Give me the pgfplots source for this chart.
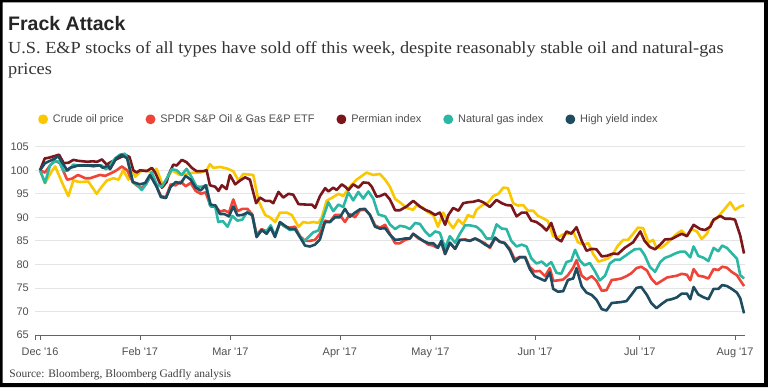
\documentclass[border=0pt]{standalone}
\usepackage{pgfplots}
\pgfplotsset{compat=1.18}
\usepackage{fontspec}
\setmainfont{Liberation Sans}
\newfontfamily\seriffont{Liberation Serif}
\newfontfamily\subfont[FakeStretch=1.08]{Liberation Serif}
\definecolor{cYellow}{RGB}{250,200,0}
\definecolor{cRed}{RGB}{240,68,56}
\definecolor{cPerm}{RGB}{122,22,28}
\definecolor{cTeal}{RGB}{42,184,164}
\definecolor{cNavy}{RGB}{30,76,96}
\definecolor{cGrid}{RGB}{228,228,228}
\definecolor{cTick}{RGB}{80,80,80}
\definecolor{cAxis}{RGB}{100,100,100}
\begin{document}
\begin{tikzpicture}[x=1bp,y=1bp]
\useasboundingbox (0,0) rectangle (768,387);
\fill[white] (0,0) rectangle (768,387);
\fill[black, even odd rule] (0,0) rectangle (768,387) (2.5,4) rectangle (764,384.5);
\node[anchor=base west, inner sep=0pt, text=black!85] at (8,356.3) {\fontsize{19.6}{22}\selectfont\bfseries Frack Attack};
\node[anchor=base west, inner sep=0pt, text=black!80] at (8,333.7) {\subfont\fontsize{17}{20}\selectfont U.S. E\&P stocks of all types have sold off this week, despite reasonably stable oil and natural-gas};
\node[anchor=base west, inner sep=0pt, text=black!80] at (8,313) {\subfont\fontsize{17}{20}\selectfont prices};
\node[anchor=base west, inner sep=0pt, text=black!75] at (9.3,9.7) {\seriffont\fontsize{11.5}{13}\selectfont Source: Bloomberg, Bloomberg Gadfly analysis};
\begin{axis}[
  at={(35bp,52bp)}, anchor=south west,
  width=710bp, height=188.3bp, scale only axis,
  xmin=-1.05, xmax=148.1, ymin=65, ymax=105,
  ytick={65,70,...,105},
  xtick={0,21,40,63,82,104,126,146},
  xticklabels={Dec \textquotesingle16,Feb \textquotesingle17,Mar \textquotesingle17,Apr \textquotesingle17,May \textquotesingle17,Jun \textquotesingle17,Jul \textquotesingle17,Aug \textquotesingle17},
  extra x ticks={-0.95}, extra x tick labels={},
  ymajorgrids, grid style={cGrid, line width=0.8bp},
  axis x line*=bottom, axis y line*=left,
  y axis line style={draw=none},
  x axis line style={cAxis, line width=0.9bp, -},
  tick align=outside,
  ytick style={draw=none},
  xtick style={cAxis, line width=0.8bp},
  extra x tick style={tick style={cAxis, line width=0.8bp}, grid=none},
  major tick length=4.5bp,
  tick label style={font=\fontsize{11}{13}\selectfont, text=cTick},
  /pgf/number format/assume math mode=true,
  yticklabel style={inner sep=0pt, xshift=-1.5bp},
  xticklabel style={anchor=base, inner sep=0pt, yshift=-16bp},
  legend columns=5,
  legend style={at={(0.0042,1.1455)}, anchor=west, draw=none, fill=none, inner sep=0pt,
    font=\fontsize{11}{13}\selectfont, text=cTick,
    nodes={inner sep=0pt},
    /tikz/every odd column/.style={column sep=5bp},
    /tikz/every even column/.style={column sep=22bp}},
  legend image code/.code={\fill (0bp,0bp) circle (3.6bp);},
  every axis plot/.append style={line width=2.6bp, line join=round},
]
\addplot[color=cYellow] coordinates {(0,100) (1.05,97.3) (2.6,100) (3.2,100.8) (4.8,97) (5.95,94.5) (7.0,97.8) (8.4,97.5) (10.15,97.6) (11.9,95) (12.6,96) (14.0,97.8) (15.4,98.3) (16.5,98) (17.5,100) (18.6,98) (19.3,100.3) (20.0,98.6) (21.4,100) (22.4,100) (23.5,99.5) (24.5,100.3) (25.9,96.5) (26.6,98) (27.7,100) (29.4,99) (30.8,99.2) (32.2,99.5) (33.6,99.5) (35.0,100) (35.7,101.3) (36.4,100.5) (37.8,100.7) (39.2,100.4) (40.6,99.8) (41.7,97.8) (42.7,99.2) (44.8,99) (45.9,93.5) (47.3,90.5) (48.3,90) (49.4,89) (50.4,91) (51.8,91) (52.9,90.5) (54.3,88) (55.3,89) (56.4,88.8) (57.4,89) (58.5,88.8) (59.2,90) (60.2,93.5) (61.6,94.3) (62.7,95) (63.7,94.5) (65.1,96.5) (66.5,98) (68.6,99.5) (70.0,99) (71.4,99.2) (72.5,98) (73.5,96.5) (74.6,93.9) (75.6,93.2) (77.0,92) (78.4,91.6) (79.1,92.5) (80.5,92) (81.6,91) (82.6,90.5) (83.6,88) (84.7,91) (85.8,89) (86.8,87.7) (87.9,89.5) (88.9,88.5) (89.9,90.5) (91.0,90) (91.7,91.6) (92.8,92.5) (94.2,93.2) (95.2,94.5) (96.3,95) (97.3,96.3) (98.3,96.2) (99.4,93) (100.4,92.5) (101.5,92.6) (102.5,91.4) (103.6,91.4) (104.6,90.3) (105.7,89.8) (106.7,89.2) (107.8,86) (108.8,85.7) (109.9,86.4) (110.9,86.5) (112.0,87) (113.0,84.7) (114.1,84.2) (115.2,84.5) (116.2,82.2) (117.3,80.6) (118.3,80.9) (119.4,81.3) (120.4,82.3) (121.4,84) (122.5,85.2) (123.5,85.2) (124.6,86.5) (125.6,87.8) (126.7,87.7) (127.8,84.7) (128.8,85.2) (129.5,83.5) (130.6,83.6) (131.7,84.5) (132.7,85.5) (133.8,86.5) (134.8,87.2) (135.9,86) (136.9,87.5) (138.0,87) (139.0,85.4) (140.1,86.5) (141.1,89) (142.2,89.8) (143.6,91.5) (145.0,93.2) (146.0,91.6) (147.1,92.3) (147.9,92.6)};
\addlegendentry{Crude oil price}
\addplot[color=cRed] coordinates {(0,100) (1.05,99.5) (2.1,101) (3.15,102) (4.2,101.5) (5.7,98) (6.7,98.2) (8.0,99) (9.5,98.3) (10.5,98.3) (12.6,99) (13.7,98.8) (15.8,99.8) (17.2,100.8) (18.3,100) (19.5,97.5) (20.3,96.8) (21.36,96.2) (22.4,97.3) (23.46,99.2) (24.5,96.5) (25.4,94.5) (26.47,94.3) (27.45,97) (28.5,96.8) (29.55,97.6) (30.6,96.6) (31.65,97.3) (32.7,95.6) (33.75,95) (34.8,95.3) (35.85,92.3) (36.9,92.3) (37.8,91.2) (38.7,91.5) (39.7,91) (40.6,93.8) (41.46,91.3) (42.5,91.8) (43.56,91.8) (44.6,90.6) (45.5,86.3) (46.57,87.5) (47.6,87) (48.46,87.8) (49.37,86.2) (50.4,88.8) (51.47,88) (52.5,87.8) (53.57,88) (54.6,86) (55.67,85) (56.7,85) (57.77,85.2) (58.8,86.5) (59.87,89.3) (60.9,89) (61.97,90.5) (63.0,90.5) (64.07,89) (65.1,90.7) (66.17,90) (67.2,91.5) (68.27,91.6) (69.3,90.6) (70.38,88.3) (71.4,87.8) (72.5,88.4) (73.5,86.5) (74.6,84.5) (75.6,84.5) (76.7,85.2) (77.7,85.5) (78.4,86.5) (79.5,85.5) (80.5,85) (81.6,84.2) (82.6,84) (83.3,83.6) (84.3,84.5) (85.1,82.2) (86.1,84.6) (87.2,83.3) (88.2,85.2) (89.3,85.3) (90.3,85) (91.4,85.5) (92.4,85) (93.5,84.5) (94.5,83.5) (95.6,85.5) (96.6,84.8) (97.6,84.6) (98.7,83.3) (99.7,81.1) (100.8,81.6) (101.9,81.6) (102.9,79.4) (103.9,78.5) (105.0,78.6) (106.1,77.5) (107.1,79.2) (107.8,76.5) (108.8,76.6) (109.9,76.8) (110.9,77.7) (112.0,79.3) (112.7,80.9) (113.8,77.6) (114.8,76.8) (115.9,77.5) (116.9,76.5) (118.0,74.4) (119.0,74.5) (120.1,76.7) (121.1,76.8) (122.1,77) (123.2,77.5) (124.2,78.1) (125.3,79.2) (126.3,79.5) (127.5,78.7) (128.4,77) (129.5,75.8) (130.6,76.5) (131.7,77.2) (132.7,77.4) (133.8,77.6) (134.8,78) (135.9,77.8) (136.6,76.6) (137.3,79) (138.3,77.6) (139.4,77.4) (140.4,77) (141.5,79) (142.5,78.8) (143.3,79.5) (144.3,79.3) (145.3,78.4) (146.4,77.7) (147.1,76.6) (147.9,75.4)};
\addlegendentry{SPDR S\&P Oil \& Gas E\&P ETF}
\addplot[color=cPerm] coordinates {(0,100) (1,102.5) (2,102.7) (3,103) (4,103.3) (5,101.5) (6,101.6) (7,102.2) (8,102) (9,101.9) (10,101.8) (11,101.9) (12,101.8) (13,102.3) (14,101.2) (15,101.8) (16,102.3) (17,102.8) (18,103.2) (18.8,102.8) (19.6,100) (20.3,99.5) (21.0,100) (22.4,99.8) (23.5,100.5) (24.2,99.5) (25.6,96.3) (26.6,97.5) (27.0,99) (28.0,101.2) (28.7,101) (29.8,102.2) (30.8,101.7) (31.9,100.5) (32.9,99.8) (34.3,99.8) (35.0,100) (35.7,96.8) (36.8,96.5) (37.5,95.6) (38.2,96.8) (39.2,96) (39.9,99) (41.0,97) (42.0,97.8) (43.1,98.5) (44.1,98) (45.4,93) (46.2,94.2) (47.3,93.5) (48.3,93.5) (49.0,93) (50.1,95.4) (51.1,94.2) (52.2,95) (53.2,94.8) (54.3,92.8) (56.0,92.7) (57.1,92.7) (57.8,92) (58.8,94.5) (59.9,96.2) (60.6,95.5) (61.6,96.3) (62.3,95.8) (63.4,97) (64.1,96.5) (64.8,95.8) (65.8,97) (66.9,96.3) (67.9,97.4) (69.0,97.3) (69.7,96.5) (70.7,94.4) (71.4,94.5) (72.5,95) (73.5,93.8) (74.6,91.5) (75.6,91.5) (77.0,92.3) (78.4,93.5) (79.8,92.3) (80.9,91.6) (81.9,91.2) (83.0,90.5) (84.0,91) (85.1,88.4) (85.8,90.5) (86.8,92) (87.9,91.4) (88.9,93) (89.9,93.2) (91.0,93.3) (92.1,93.6) (93.1,93.2) (94.5,92.2) (95.9,93.7) (97.0,93) (98.0,92.6) (99.0,92.5) (100.1,90.2) (101.2,91) (102.2,91) (103.2,89.3) (104.3,89) (105.4,88.2) (106.4,87.2) (107.4,88.8) (108.5,85.5) (109.5,84.9) (110.6,87) (111.6,86.5) (112.7,87.9) (113.8,85) (114.8,82.9) (115.9,83.3) (116.9,83.2) (118.0,81.7) (119.0,81.8) (120.4,82.3) (121.4,82.2) (122.8,83.5) (124.6,84.7) (126.1,87) (127.0,85) (128.1,83.7) (129.2,83.2) (130.3,84.2) (131.3,85.3) (132.7,85.4) (133.8,86) (134.8,86.5) (135.9,86) (137.3,88.4) (138.7,87.5) (139.7,87.3) (140.8,88) (141.5,89.5) (142.9,90.3) (143.9,89.7) (145.0,89.7) (146.0,89.5) (147.1,86.1) (147.9,82.3)};
\addlegendentry{Permian index}
\addplot[color=cTeal] coordinates {(0,100) (1.05,97.3) (2.1,101) (3.15,102) (4.06,101.8) (5.04,99.8) (5.95,100) (7.0,101.2) (8.05,101) (9.1,101) (10.15,101) (11.2,100.8) (12.25,101) (12.96,101) (13.87,100.2) (14.7,101) (15.76,102.5) (16.8,103.3) (17.86,103.5) (18.56,102) (19.47,97.5) (20.3,97) (21.36,95.8) (22.4,97.2) (23.46,99.6) (24.5,97) (25.56,96.5) (26.6,98.2) (27.66,100.2) (28.7,100) (29.76,99) (30.8,100.3) (31.86,98.5) (32.9,96.5) (33.96,96.5) (35.0,96.8) (35.7,92.5) (36.76,92.5) (37.46,89) (38.4,89.2) (39.4,88) (40.4,90.3) (41.46,89.3) (42.5,89.5) (43.56,91.2) (44.6,90.3) (45.5,86) (46.57,87.2) (47.6,87) (48.46,88.3) (49.37,86) (50.4,88.8) (51.47,88) (52.5,87.3) (53.57,87.5) (54.6,86) (55.46,84.9) (56.37,85.8) (57.4,86.8) (58.47,87.2) (59.5,90) (60.57,93.2) (61.6,91.3) (62.67,92.7) (63.7,92.2) (64.77,95.3) (65.8,93.6) (66.87,95.4) (67.9,94) (68.98,95.5) (70.0,94) (71.08,90.6) (72.5,90.2) (73.5,88.5) (74.6,87.5) (75.6,88.2) (76.7,88) (77.7,87.5) (78.8,88.8) (79.8,88.6) (80.9,87) (81.9,86) (83.0,87) (84.0,86.7) (85.1,83.5) (86.1,86) (87.2,84.6) (88.2,86.5) (89.3,88.3) (90.3,88.3) (91.7,88) (92.8,87) (93.8,85.5) (94.9,85.5) (95.9,88.5) (97.0,87.6) (98.0,87.5) (99.0,85) (100.1,83.8) (101.2,84.2) (102.2,83.8) (103.2,81.3) (104.3,80.2) (105.4,80.6) (106.4,79.7) (107.4,80.5) (108.5,78.2) (109.5,78) (110.6,80.5) (111.6,80.8) (112.4,83.1) (113.4,80.8) (114.4,79.8) (115.5,80.3) (116.6,78.5) (117.6,76.6) (118.7,77.6) (119.7,80.2) (120.8,81) (121.8,81) (122.8,81.7) (123.9,82.5) (124.9,83.2) (126.1,83.3) (127.0,82) (128.1,79.5) (129.2,78.4) (130.3,80.5) (131.3,81.4) (132.4,81.8) (133.4,82.3) (134.5,82.7) (135.5,82.7) (136.6,81.5) (137.3,83.8) (138.3,81.8) (139.4,81.4) (140.4,80.7) (141.5,83.5) (142.5,82.8) (143.3,84) (144.3,83.5) (145.3,82.4) (146.4,81.2) (147.1,77.7) (147.9,77)};
\addlegendentry{Natural gas index}
\addplot[color=cNavy] coordinates {(0,100) (1.05,101.5) (2.1,102) (3.15,102.5) (3.8,103) (5.7,100) (6.3,100.5) (8.0,101) (9.5,101) (11.6,101) (12.6,101) (13.2,100.5) (14.3,101) (14.7,100.2) (16.0,102.5) (17.2,103.3) (18.3,102.5) (19.5,97.5) (21.0,97) (22.1,97.3) (23.1,99) (24.5,96.5) (25.4,94.3) (26.47,94.1) (27.45,96.5) (28.5,97.5) (29.55,97.2) (30.6,98.8) (31.65,98) (32.7,96.3) (33.75,95.7) (34.8,96.8) (35.85,92.7) (36.9,92.5) (37.8,90.7) (38.7,90.7) (39.7,90.2) (40.6,92.3) (41.46,90.4) (42.5,90.5) (43.56,91) (44.6,90.5) (45.5,85.8) (46.57,87.3) (47.6,86.5) (48.46,87.8) (49.37,85.8) (50.4,89) (51.47,88.2) (52.5,87.5) (53.57,87.5) (54.6,85.8) (55.67,84) (56.7,83.8) (57.77,84.2) (58.8,85.3) (59.87,89) (60.9,89) (61.97,90) (63.0,90) (64.07,91.8) (65.1,90.1) (66.17,91) (67.2,91.7) (68.27,91.8) (69.3,90.5) (70.38,88) (71.4,87.6) (72.5,87.7) (73.5,86.3) (74.6,85.2) (75.6,85.3) (76.7,85.5) (77.7,85.5) (78.4,86.5) (79.5,85.7) (80.5,85) (81.6,84.5) (82.6,84.5) (83.6,83.5) (84.3,85) (85.1,82.2) (86.1,84.6) (87.2,83.3) (88.2,85.2) (89.3,85.2) (90.3,85) (91.4,85.5) (92.4,85) (93.5,84.2) (94.5,83.7) (95.6,85.7) (96.6,84.8) (97.6,84.5) (98.7,83) (99.7,80.6) (100.8,81.5) (101.9,81.5) (102.9,79) (103.9,77.5) (105.0,77) (106.1,76.5) (107.1,78.3) (107.8,74.8) (108.8,74.2) (109.9,74.3) (110.9,76.7) (112.0,77) (112.7,79.2) (113.8,75.3) (114.8,74) (115.9,73.5) (116.9,72.5) (118.0,70.5) (119.0,70.2) (120.1,71.8) (121.1,71.9) (122.1,72) (123.2,72.2) (124.2,73.5) (125.3,75) (126.3,75.2) (127.5,73.5) (128.4,71.8) (129.5,70.7) (130.6,71.6) (131.7,72.4) (132.7,72.6) (133.8,73) (134.8,73.8) (135.9,73.8) (136.6,72.6) (137.3,75.2) (138.3,73.6) (139.4,73) (140.4,72.6) (141.5,74.8) (142.5,74.8) (143.3,75.6) (144.3,75.4) (145.3,74.8) (146.4,74) (147.1,72.8) (147.9,69.6)};
\addlegendentry{High yield index}
\end{axis}
\end{tikzpicture}
\end{document}
